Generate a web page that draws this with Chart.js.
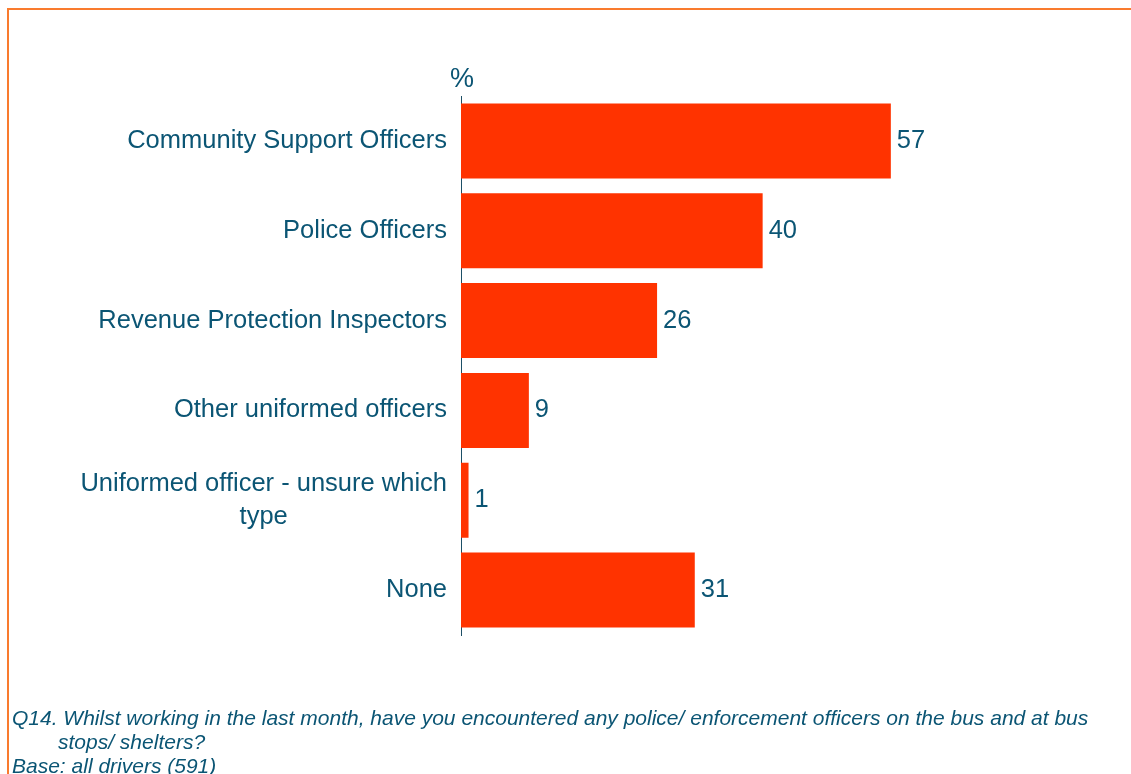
<!DOCTYPE html>
<html>
<head>
<meta charset="utf-8">
<script src="https://cdn.jsdelivr.net/npm/chart.js@4.4.1/dist/chart.umd.min.js"></script>
<style>
  html, body { margin: 0; padding: 0; background: #fff; }
  #wrap { position: relative; width: 1131px; height: 774px; overflow: hidden; }
  #frame { position: absolute; left: 7px; top: 8px; right: -10px; bottom: -10px;
           border-left: 2px solid #f97b2e; border-top: 2px solid #f97b2e; }
  #box { position: absolute; left: 0; top: 0; width: 1131px; height: 774px; }
  .note { position: absolute; left: 12px; font: italic 21px "Liberation Sans", Arial, sans-serif;
          color: #0b5574; white-space: nowrap; line-height: 24px; }
</style>
</head>
<body>
<div id="wrap">
  <div id="frame"></div>
  <div id="box"><canvas id="chart"></canvas></div>
  <div class="note" style="top:706px">Q14. Whilst working in the last month, have you encountered any police/ enforcement officers on the bus and at bus</div>
  <div class="note" style="top:730px; left:58px">stops/ shelters?</div>
  <div class="note" style="top:754px">Base: all drivers (591)</div>
</div>
<script>
// answers and % of drivers
const categories = [
  'Community Support Officers',
  'Police Officers',
  'Revenue Protection Inspectors',
  'Other uniformed officers',
  ['Uniformed officer - unsure which', 'type'],
  'None'
];
const values = [57, 40, 26, 9, 1, 31];

const textColor = '#0b5574';
const barColor = '#ff3300';
const labelFont = '25.5px "Liberation Sans", Arial, sans-serif';

// category names to the left of the axis, wrapped lines centred on each other
const catLabels = {
  id: 'catLabels',
  afterDraw(chart) {
    const ctx = chart.ctx;
    const yScale = chart.scales.y;
    const right = chart.chartArea.left - 14;
    ctx.save();
    ctx.font = labelFont;
    ctx.fillStyle = textColor;
    ctx.textAlign = 'center';
    ctx.textBaseline = 'middle';
    categories.forEach((c, i) => {
      const lines = Array.isArray(c) ? c : [c];
      const w = Math.max(...lines.map(l => ctx.measureText(l).width));
      const cy = yScale.getPixelForValue(i);
      const lh = 33;
      lines.forEach((l, j) => {
        ctx.fillText(l, right - w / 2, cy + (j - (lines.length - 1) / 2) * lh);
      });
    });
    // unit over the axis
    ctx.font = '27px "Liberation Sans", Arial, sans-serif';
    ctx.fillText('%', chart.chartArea.left + 1, chart.chartArea.top - 16);
    ctx.restore();
  }
};

// value at the end of each bar
const valueLabels = {
  id: 'valueLabels',
  afterDatasetsDraw(chart) {
    const ctx = chart.ctx;
    const meta = chart.getDatasetMeta(0);
    ctx.save();
    ctx.font = labelFont;
    ctx.fillStyle = textColor;
    ctx.textAlign = 'left';
    ctx.textBaseline = 'middle';
    meta.data.forEach((bar, i) => {
      ctx.fillText(String(values[i]), bar.x + 6, bar.y);
    });
    ctx.restore();
  }
};

new Chart(document.getElementById('chart'), {
  type: 'bar',
  data: {
    labels: categories,
    datasets: [{
      data: values,
      backgroundColor: barColor,
      borderWidth: 0,
      barPercentage: 0.835,
      categoryPercentage: 1
    }]
  },
  options: {
    indexAxis: 'y',
    responsive: true,
    maintainAspectRatio: false,
    animation: false,
    layout: { padding: { left: 461, top: 96, right: 29, bottom: 139 } },
    plugins: { legend: { display: false }, tooltip: { enabled: false } },
    scales: {
      x: { display: false, min: 0, max: 85 },
      y: {
        grid: { display: false, drawTicks: false },
        ticks: { display: false },
        border: { display: true, color: '#1d4f66', width: 1 }
      }
    }
  },
  plugins: [catLabels, valueLabels]
});
</script>
</body>
</html>
